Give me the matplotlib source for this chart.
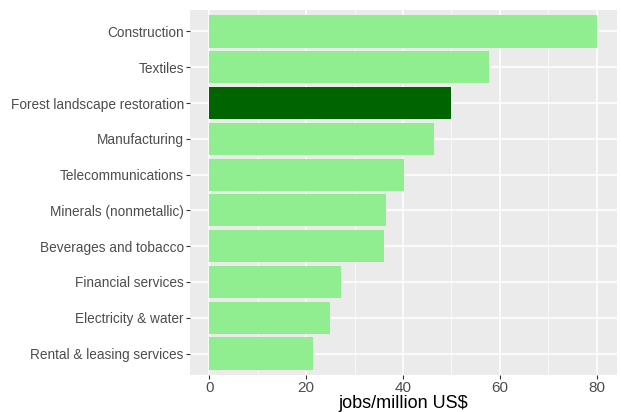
import matplotlib.pyplot as plt
from matplotlib.ticker import MultipleLocator

plt.rcParams['font.family'] = ['Liberation Sans', 'DejaVu Sans']

sectors = ['Construction', 'Textiles', 'Forest landscape restoration', 'Manufacturing',
           'Telecommunications', 'Minerals (nonmetallic)', 'Beverages and tobacco',
           'Financial services', 'Electricity & water', 'Rental & leasing services']
jobs = [80.0, 57.8, 50.0, 46.3, 40.3, 36.4, 36.0, 27.1, 25.0, 21.3]
colors = ['#90EE90'] * len(sectors)
colors[2] = '#006400'

fig = plt.figure(figsize=(6.21, 4.12), dpi=100)
ax = fig.add_axes([190 / 621, 37 / 412, 427 / 621, 365 / 412])
ax.set_facecolor('#EBEBEB')

pos = list(range(len(sectors), 0, -1))
ax.barh(pos, jobs, height=0.9, color=colors, zorder=3)

ax.set_xlim(-4.01, 84.2)
ax.set_ylim(0.4, 10.6)
ax.xaxis.set_major_locator(MultipleLocator(20))
ax.xaxis.set_minor_locator(MultipleLocator(10))
ax.set_yticks(pos)
ax.set_yticklabels(sectors)

ax.grid(which='major', color='white', linewidth=1.1, zorder=0)
ax.grid(which='minor', axis='x', color='white', linewidth=0.5, zorder=0)
for s in ax.spines.values():
    s.set_visible(False)
ax.tick_params(which='major', colors='#333333', labelcolor='#4D4D4D', labelsize=9.8,
               length=3, width=0.8, pad=1.5)
ax.tick_params(which='minor', length=0)
ax.tick_params(axis='x', labelsize=11, pad=1)

ax.set_xlabel('jobs/million US$', fontsize=13, color='black', labelpad=0)

fig.savefig('out.png', dpi=100)
